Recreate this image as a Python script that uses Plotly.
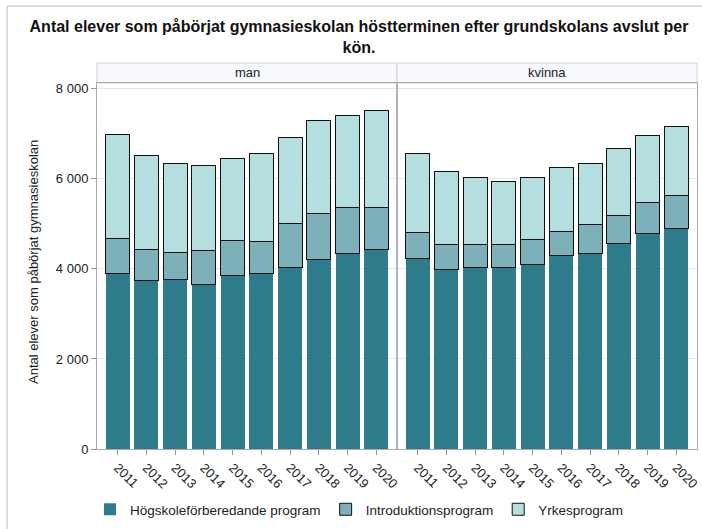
import plotly.graph_objects as go
from plotly.subplots import make_subplots

years = ["2011", "2012", "2013", "2014", "2015", "2016", "2017", "2018", "2019", "2020"]
panels = ["man", "kvinna"]
series_names = ["Högskoleförberedande program", "Introduktionsprogram", "Yrkesprogram"]
colors = ["#2e7b8c", "#7eb0b9", "#b5dedf"]

# man
man_hog = [3907, 3745, 3767, 3663, 3848, 3893, 4026, 4211, 4352, 4433]
man_intro = [770, 681, 599, 740, 777, 718, 977, 1021, 1021, 932]
man_yrkes = [2302, 2101, 1984, 1895, 1828, 1961, 1924, 2065, 2042, 2147]
# kvinna
kv_hog = [4233, 3996, 4033, 4033, 4107, 4300, 4337, 4566, 4788, 4892]
kv_intro = [570, 548, 511, 511, 541, 540, 658, 629, 696, 732]
kv_yrkes = [1769, 1621, 1488, 1391, 1391, 1406, 1355, 1480, 1480, 1540]

data = {
    "man": [man_hog, man_intro, man_yrkes],
    "kvinna": [kv_hog, kv_intro, kv_yrkes],
}

y_ticks = [0, 2000, 4000, 6000, 8000]
y_ticktext = ["0", "2 000", "4 000", "6 000", "8 000"]

FONT = "Liberation Sans, Arial, sans-serif"

fig = make_subplots(rows=1, cols=2, shared_yaxes=True, horizontal_spacing=0)

for ci, panel in enumerate(panels):
    for si, name in enumerate(series_names):
        vals = data[panel][si]
        line_col = colors[si] if si == 0 else "#111111"
        fig.add_trace(
            go.Bar(
                x=years, y=vals, name=name,
                marker=dict(color=colors[si], line=dict(color=line_col, width=1 if si else 0)),
                showlegend=(ci == 0),
                legendgroup=name,
            ),
            row=1, col=ci + 1,
        )

# plot area geometry (px): x 97..697, y 83..449
W, H = 702, 529
L, R, T, B = 97, 5, 83, 80
pw = W - L - R
ph = H - T - B

def px_x(px):
    return (px - L) / pw

def px_y(py):
    return (H - B - py) / ph

fig.update_layout(
    barmode="stack",
    bargap=0.16,
    width=W, height=H,
    margin=dict(l=L, r=R, t=T, b=B, pad=0, autoexpand=False),
    paper_bgcolor="white",
    plot_bgcolor="white",
    font=dict(family=FONT, size=13, color="#222222"),
    title=dict(
        text="<b>Antal elever som påbörjat gymnasieskolan höstterminen efter grundskolans avslut per<br>kön.</b>",
        x=359 / W, xanchor="center", y=1 - 32 / H, yanchor="top",
        font=dict(family=FONT, size=16, color="#111111"),
    ),
    legend=dict(
        orientation="h", x=px_x(90), xanchor="left", y=px_y(494), yanchor="top",
        font=dict(family=FONT, size=13.5, color="#222222"),
        traceorder="normal", itemclick=False,
    ),
    showlegend=True,
)

for ci in (1, 2):
    fig.update_xaxes(
        row=1, col=ci,
        type="category",
        range=[-0.72, 9.72],
        tickangle=45,
        ticks="outside", ticklen=5, tickcolor="#9a9a9a",
        showline=True, linecolor="#a8acb0", linewidth=1, mirror=True,
        showgrid=False, zeroline=False,
        tickfont=dict(family=FONT, size=13, color="#222222"),
    )
    fig.update_yaxes(
        row=1, col=ci,
        range=[0, 8130],
        tickvals=y_ticks, ticktext=y_ticktext,
        showgrid=True, gridcolor="#e6e6e6", gridwidth=1,
        showline=True, linecolor="#a8acb0", linewidth=1, mirror=True,
        zeroline=False,
        ticks="outside" if ci == 1 else "", ticklen=5, tickcolor="#9a9a9a",
        tickfont=dict(family=FONT, size=13, color="#222222"),
    )

# y-axis title
fig.add_annotation(
    text="Antal elever som påbörjat gymnasieskolan",
    xref="paper", yref="paper", x=px_x(33), y=px_y(262),
    textangle=-90, showarrow=False, xanchor="center", yanchor="middle",
    font=dict(family=FONT, size=13, color="#222222"),
)

# strip headers
strip_y0, strip_y1 = px_y(83), px_y(63)
for ci, panel in enumerate(panels):
    x0 = px_x(97 + ci * 300)
    x1 = px_x(97 + (ci + 1) * 300)
    fig.add_shape(type="rect", xref="paper", yref="paper",
                  x0=x0, x1=x1, y0=strip_y0, y1=strip_y1,
                  fillcolor="#f8f9fe", line=dict(color="#cfd1d4", width=1), layer="below")
    fig.add_annotation(text=panel, xref="paper", yref="paper",
                       x=(x0 + x1) / 2, y=(strip_y0 + strip_y1) / 2,
                       showarrow=False, xanchor="center", yanchor="middle",
                       font=dict(family=FONT, size=13, color="#222222"))

# separator between panels
fig.add_shape(type="line", xref="paper", yref="paper",
              x0=px_x(397), x1=px_x(397), y0=0, y1=strip_y0,
              line=dict(color="#b0b4b8", width=2))

# outer frame (light gray)
fig.add_shape(type="line", xref="paper", yref="paper",
              x0=px_x(7), x1=px_x(720), y0=px_y(6), y1=px_y(6),
              line=dict(color="#dddddd", width=2))
fig.add_shape(type="line", xref="paper", yref="paper",
              x0=px_x(7), x1=px_x(7), y0=px_y(6), y1=px_y(540),
              line=dict(color="#dddddd", width=2))

fig.write_html("out.html", config={"displayModeBar": False},
               post_script="document.body.style.margin='0px';")
